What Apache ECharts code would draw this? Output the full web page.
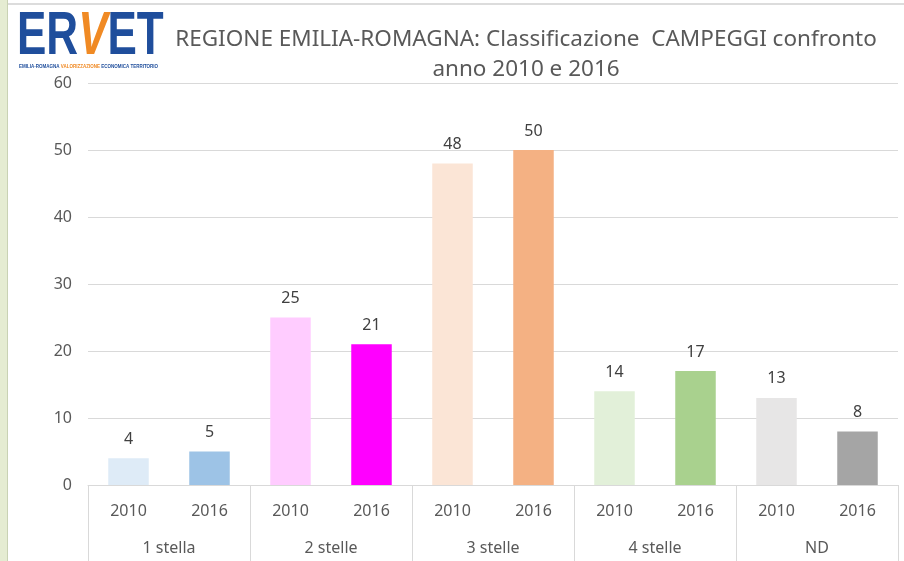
<!DOCTYPE html>
<html>
<head>
<meta charset="utf-8">
<script src="https://cdn.jsdelivr.net/npm/echarts@6/dist/echarts.min.js"></script>
<style>
  html, body { margin: 0; padding: 0; background: #fff; }
  #chart { width: 904px; height: 561px; }
</style>
</head>
<body>
<div id="chart"></div>
<script>
  // dati
  let years = ['2010', '2016', '2010', '2016', '2010', '2016', '2010', '2016', '2010', '2016']
  let groups = ['1 stella', '2 stelle', '3 stelle', '4 stelle', 'ND']
  let values = [4, 5, 25, 21, 48, 50, 14, 17, 13, 8]
  let colors = ['#deebf7', '#9dc3e6', '#ffccff', '#ff00ff', '#fbe5d6', '#f4b183', '#e2f0d9', '#a9d18e', '#e7e6e6', '#a5a5a5']
  let yTicks = [0, 10, 20, 30, 40, 50, 60]

  let font = 'Noto Sans'
  let myChart = echarts.init(document.getElementById('chart'))

  let data = values.map((v, i) => ({
    value: v,
    itemStyle: {color: colors[i]}
  }))

  let option = {
    animation: false,
    backgroundColor: '#fff',
    textStyle: {fontFamily: font},
    title: {
      text: 'REGIONE EMILIA-ROMAGNA: Classificazione  CAMPEGGI confronto\nanno 2010 e 2016',
      left: 521,
      top: 20,
      textAlign: 'center',
      textStyle: {
        fontFamily: font,
        fontSize: 22.5,
        fontWeight: 'normal',
        color: '#595959',
        lineHeight: 30
      }
    },
    graphic: [
      // bordo sinistro verde
      {type: 'rect', left: 0, top: 0, shape: {width: 7, height: 561}, style: {fill: '#e5ecd2'}, z: 10},
      {type: 'rect', left: 7, top: 0, shape: {width: 1, height: 561}, style: {fill: '#c9d2b4'}, z: 10},
      // linea superiore
      {type: 'rect', left: 8, top: 3, shape: {width: 896, height: 2}, style: {fill: '#dcdcdc'}, z: 10},
      // logo
      {
        type: 'text', x: 17, y: 6, scaleX: 0.71, z: 10,
        style: {
          text: '{b|ER}{o|V}{b|ET}',
          rich: {
            b: {fontFamily: 'Liberation Sans', fontWeight: 'bold', fontSize: 62, fill: '#1f4e9c'},
            o: {fontFamily: 'Liberation Sans', fontWeight: 'bold', fontStyle: 'italic', fontSize: 62, fill: '#f08a24'}
          }
        }
      },
      {
        type: 'text', x: 19, y: 64, scaleX: 0.9, z: 10,
        style: {
          text: '{b|EMILIA-ROMAGNA }{o|VALORIZZAZIONE }{b|ECONOMICA TERRITORIO}',
          rich: {
            b: {fontFamily: 'Liberation Sans', fontWeight: 'bold', fontSize: 5, fill: '#1f4e9c'},
            o: {fontFamily: 'Liberation Sans', fontWeight: 'bold', fontSize: 5, fill: '#f08a24'}
          }
        }
      }
    ],
    grid: {
      left: 88,
      right: 6,
      top: 83,
      bottom: 76
    },
    xAxis: [
      {
        type: 'category',
        data: years,
        position: 'bottom',
        axisLine: {show: true, lineStyle: {color: '#d9d9d9', width: 1}},
        axisTick: {show: false},
        axisLabel: {
          margin: 18,
          fontSize: 16,
          color: '#595959',
          fontFamily: font
        }
      },
      {
        type: 'category',
        data: groups,
        position: 'bottom',
        axisLine: {show: false},
        axisTick: {show: true, length: 76, lineStyle: {color: '#d9d9d9', width: 1}},
        axisLabel: {
          margin: 55,
          fontSize: 16,
          color: '#595959',
          fontFamily: font
        }
      }
    ],
    yAxis: {
      type: 'value',
      min: yTicks[0],
      max: yTicks[yTicks.length - 1],
      interval: 10,
      axisLine: {show: false},
      axisTick: {show: false},
      splitLine: {lineStyle: {color: '#d9d9d9', width: 1}},
      axisLabel: {
        margin: 16,
        fontSize: 16,
        color: '#595959',
        fontFamily: font
      }
    },
    series: [
      {
        type: 'bar',
        xAxisIndex: 0,
        barWidth: '50%',
        data: data,
        label: {
          show: true,
          position: 'top',
          distance: 11,
          fontSize: 16,
          color: '#404040',
          fontFamily: font
        }
      }
    ]
  }
  myChart.setOption(option)
</script>
</body>
</html>
